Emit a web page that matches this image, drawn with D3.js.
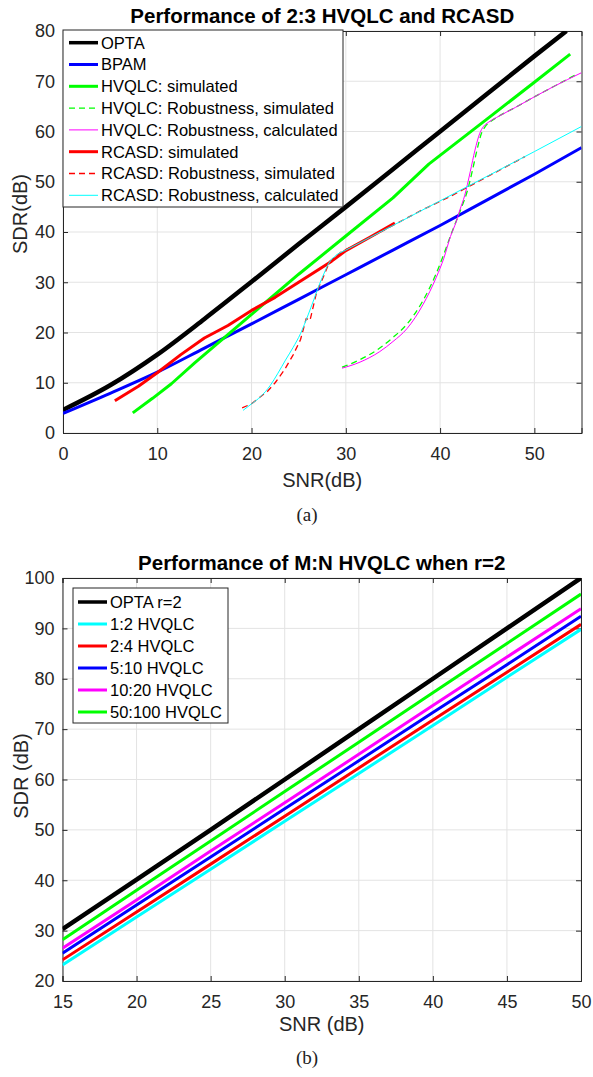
<!DOCTYPE html>
<html>
<head>
<meta charset="utf-8">
<script src="https://cdn.jsdelivr.net/npm/d3@7"></script>
<style>
  body { margin: 0; background: #fff; }
  svg { display: block; font-family: "Liberation Sans", Arial, Helvetica, sans-serif; }
</style>
</head>
<body>
<div id="chart"></div>
<script>
// ---- panel (a) data ----
var optaSnr = [0, 5, 10, 15, 20, 25, 30, 35, 40, 45, 50, 53.4];
var optaSdr = [4.6, 9.5, 15.6, 22.7, 30.1, 37.6, 45.0, 52.5, 60.0, 67.5, 75.0, 80.0];

var bpamSnr = [0, 5, 10, 15, 20, 25, 30, 35, 40, 45, 50, 55];
var bpamSdr = [3.9, 7.9, 12.1, 16.9, 21.7, 26.6, 31.5, 36.4, 41.3, 46.4, 51.5, 56.8];

var hvSimSnr = [7.4, 9.5, 11.5, 14, 17.3, 20, 25, 30, 35, 38.8, 45, 50, 53.8];
var hvSimSdr = [4.0, 6.9, 9.8, 14.0, 19.3, 23.6, 31.6, 39.2, 46.8, 53.5, 62.5, 69.8, 75.4];

var hvRobSimSnr = [29.6, 31.5, 33.6, 35.0, 36.5, 38.2, 39.6, 40.4, 41.2, 41.8, 42.3, 42.8, 43.4, 43.9, 44.4, 44.8, 45.3, 46, 48, 50, 52, 54.5];
var hvRobSimSdr = [13.1, 14.6, 16.9, 19.0, 21.7, 26.4, 31.8, 35.6, 39.7, 42.6, 45.0, 47.6, 52.0, 56.2, 59.7, 61.0, 61.9, 62.8, 64.8, 66.9, 68.9, 71.4];

var hvRobCalSnr = [29.6, 31.5, 33.6, 35.0, 36.5, 38.2, 39.6, 40.4, 41.1, 41.7, 42.1, 42.6, 43.2, 43.7, 44.2, 44.6, 45.1, 46, 48, 50, 52, 55];
var hvRobCalSdr = [12.9, 14.1, 16.2, 18.2, 20.8, 25.6, 31.0, 34.8, 39.1, 42.0, 44.4, 47.2, 52.0, 56.3, 59.6, 61.0, 61.8, 62.8, 64.8, 66.9, 68.9, 71.7];

var rcSimSnr = [5.5, 8, 10, 12.5, 15, 17.5, 20, 22.5, 25, 28.5, 30, 32.5, 35.2];
var rcSimSdr = [6.4, 9.3, 12.0, 15.6, 18.9, 21.4, 24.4, 27.0, 30.0, 34.2, 36.3, 38.9, 41.8];

var rcRobSimSnr = [19.0, 20.0, 20.8, 21.7, 22.5, 23.5, 24.4, 25.2, 25.8, 26.2, 26.9, 27.6, 28.3, 29.5, 32, 35, 38, 41, 44, 47, 49];
var rcRobSimSdr = [5.0, 5.8, 7.0, 8.3, 10.0, 12.6, 15.5, 18.6, 22.8, 22.4, 28.0, 31.0, 34.2, 36.0, 38.4, 41.3, 44.3, 47.0, 50.0, 53.0, 55.0];

var rcRobCalSnr = [19.1, 20.0, 21.0, 22.0, 22.8, 23.6, 24.4, 25.2, 26.0, 26.6, 27.1, 27.7, 28.2, 29.0, 30, 35, 40, 45, 50, 55];
var rcRobCalSdr = [4.5, 5.8, 7.3, 9.5, 11.9, 14.5, 17.0, 19.8, 23.5, 26.5, 29.1, 31.8, 33.8, 35.4, 36.4, 41.3, 46.2, 51.1, 56.0, 61.0];

var ticksAX = [0, 10, 20, 30, 40, 50];
var ticksAY = [0, 10, 20, 30, 40, 50, 60, 70, 80];

// ---- panel (b) data ----
var snrB = [15, 20, 25, 30, 35, 40, 45, 50];
var optaR2 = [30.3, 40.1, 50.0, 60.0, 70.0, 80.0, 90.0, 100.0];
var hv1to2 = [23.2, 32.7, 42.2, 51.7, 61.2, 70.7, 80.3, 89.8];
var hv2to4 = [24.2, 33.7, 43.2, 52.7, 62.3, 71.8, 81.3, 90.8];
var hv5to10 = [25.5, 35.1, 44.6, 54.2, 63.7, 73.3, 82.8, 92.4];
var hv10to20 = [26.5, 36.1, 45.8, 55.4, 65.0, 74.7, 84.3, 93.9];
var hv50to100 = [28.2, 38.0, 47.8, 57.6, 67.4, 77.2, 87.0, 96.8];

var ticksBX = [15, 20, 25, 30, 35, 40, 45, 50];
var ticksBY = [20, 30, 40, 50, 60, 70, 80, 90, 100];

var axisColor = '#262626';
var gridColor = '#e3e3e3';

var svg = d3.select('#chart').append('svg')
  .attr('width', 593)
  .attr('height', 1077);

function zip(xs, ys) {
  return xs.map((x, i) => [x, ys[i]]);
}

function drawPanel(p) {
  var x = d3.scaleLinear().domain(p.xDomain).range([p.left, p.right]);
  var y = d3.scaleLinear().domain(p.yDomain).range([p.bottom, p.top]);
  var g = svg.append('g');

  // grid
  g.selectAll('.gx').data(p.xTicks).enter().append('line')
    .attr('x1', d => x(d)).attr('x2', d => x(d))
    .attr('y1', p.top).attr('y2', p.bottom)
    .attr('stroke', gridColor).attr('stroke-width', 1);
  g.selectAll('.gy').data(p.yTicks).enter().append('line')
    .attr('x1', p.left).attr('x2', p.right)
    .attr('y1', d => y(d)).attr('y2', d => y(d))
    .attr('stroke', gridColor).attr('stroke-width', 1);

  // axes, ticks pointing inward
  var ax = [
    { gen: d3.axisBottom(x).tickValues(p.xTicks).tickSize(-5).tickPadding(14), t: `translate(0,${p.bottom})` },
    { gen: d3.axisLeft(y).tickValues(p.yTicks).tickSize(-5).tickPadding(8), t: `translate(${p.left},0)` },
    { gen: d3.axisTop(x).tickValues(p.xTicks).tickSize(-5).tickFormat(''), t: `translate(0,${p.top})` },
    { gen: d3.axisRight(y).tickValues(p.yTicks).tickSize(-5).tickFormat(''), t: `translate(${p.right},0)` }
  ];
  ax.forEach(a => {
    var sel = g.append('g').attr('transform', a.t).call(a.gen);
    sel.select('.domain').attr('stroke', axisColor);
    sel.selectAll('.tick line').attr('stroke', axisColor);
    sel.selectAll('.tick text')
      .attr('fill', axisColor)
      .style('font-size', '18px')
      .style('font-family', '"Liberation Sans", Arial, sans-serif');
  });

  // curves
  var clipId = 'clip' + p.id;
  svg.append('clipPath').attr('id', clipId).append('rect')
    .attr('x', p.left).attr('y', p.top)
    .attr('width', p.right - p.left).attr('height', p.bottom - p.top);

  var line = d3.line().x(d => x(d[0])).y(d => y(d[1]));
  var smooth = d3.line().x(d => x(d[0])).y(d => y(d[1])).curve(d3.curveMonotoneX);
  g.append('g').attr('clip-path', `url(#${clipId})`)
    .selectAll('path').data(p.series).enter().append('path')
    .attr('d', d => (d.smooth ? smooth : line)(zip(d.x, d.y)))
    .attr('fill', 'none')
    .attr('stroke', d => d.color)
    .attr('stroke-width', d => d.width)
    .attr('stroke-dasharray', d => d.dash || null)
    .attr('stroke-linejoin', 'round');

  // titles and labels
  g.append('text')
    .attr('x', (p.left + p.right) / 2).attr('y', p.titleY)
    .attr('text-anchor', 'middle')
    .style('font-size', '20.5px').style('font-weight', 'bold')
    .attr('fill', '#000')
    .text(p.title);
  g.append('text')
    .attr('x', (p.left + p.right) / 2).attr('y', p.xLabelY)
    .attr('text-anchor', 'middle')
    .style('font-size', '20px').attr('fill', axisColor)
    .text(p.xLabel);
  g.append('text')
    .attr('transform', `translate(${p.yLabelX},${p.yLabelCenter}) rotate(-90)`)
    .attr('text-anchor', 'middle')
    .style('font-size', '20px').attr('fill', axisColor)
    .text(p.yLabel);
  g.append('text')
    .attr('x', 307).attr('y', p.captionY)
    .attr('text-anchor', 'middle')
    .style('font-family', '"Liberation Serif", "Times New Roman", serif')
    .style('font-size', '19px').attr('fill', '#222')
    .text(p.caption);

  // legend
  var L = p.legend;
  var lg = g.append('g');
  lg.append('rect')
    .attr('x', L.x).attr('y', L.y).attr('width', L.w).attr('height', L.h)
    .attr('fill', '#fff').attr('stroke', axisColor).attr('stroke-width', 1);
  var rows = lg.selectAll('.row').data(p.series).enter().append('g')
    .attr('transform', (d, i) => `translate(${L.x},${L.firstRow + i * L.step})`);
  rows.append('line')
    .attr('x1', L.lineX1).attr('x2', L.lineX2)
    .attr('stroke', d => d.color)
    .attr('stroke-width', d => Math.min(d.width, 3.5))
    .attr('stroke-dasharray', d => d.dash || null);
  rows.append('text')
    .attr('x', L.textX).attr('dy', '0.36em')
    .style('font-size', '16.5px').attr('fill', '#000')
    .text(d => d.name);
}

drawPanel({
  id: 'a',
  xDomain: [0, 55], yDomain: [0, 80],
  left: 63, right: 581.5, top: 31, bottom: 433,
  xTicks: ticksAX, yTicks: ticksAY,
  title: 'Performance of 2:3 HVQLC and RCASD', titleY: 23,
  xLabel: 'SNR(dB)', xLabelY: 487,
  yLabel: 'SDR(dB)', yLabelX: 27, yLabelCenter: 214,
  caption: '(a)', captionY: 521,
  legend: { x: 63, y: 30, w: 280, h: 177, firstRow: 42.7, step: 21.8, lineX1: 6, lineX2: 35, textX: 38 },
  series: [
    { name: 'OPTA', x: optaSnr, y: optaSdr, color: '#000000', width: 4.5, smooth: true },
    { name: 'BPAM', x: bpamSnr, y: bpamSdr, color: '#0000ff', width: 3, smooth: true },
    { name: 'HVQLC: simulated', x: hvSimSnr, y: hvSimSdr, color: '#00ff00', width: 3 },
    { name: 'HVQLC: Robustness, simulated', x: hvRobSimSnr, y: hvRobSimSdr, color: '#00ff00', width: 1.3, dash: '6,4', smooth: true },
    { name: 'HVQLC: Robustness, calculated', x: hvRobCalSnr, y: hvRobCalSdr, color: '#ff00ff', width: 1, smooth: true },
    { name: 'RCASD: simulated', x: rcSimSnr, y: rcSimSdr, color: '#ff0000', width: 3 },
    { name: 'RCASD: Robustness, simulated', x: rcRobSimSnr, y: rcRobSimSdr, color: '#ff0000', width: 1.3, dash: '6,4' },
    { name: 'RCASD: Robustness, calculated', x: rcRobCalSnr, y: rcRobCalSdr, color: '#00ffff', width: 1, smooth: true }
  ]
});

drawPanel({
  id: 'b',
  xDomain: [15, 50], yDomain: [20, 100],
  left: 62.5, right: 581, top: 578, bottom: 981,
  xTicks: ticksBX, yTicks: ticksBY,
  title: 'Performance of M:N HVQLC when r=2', titleY: 570,
  xLabel: 'SNR (dB)', xLabelY: 1031,
  yLabel: 'SDR (dB)', yLabelX: 28, yLabelCenter: 776,
  caption: '(b)', captionY: 1064,
  legend: { x: 73, y: 588, w: 155, h: 135, firstRow: 602, step: 22, lineX1: 5, lineX2: 34, textX: 37 },
  series: [
    { name: 'OPTA r=2', x: snrB, y: optaR2, color: '#000000', width: 4.5 },
    { name: '1:2 HVQLC', x: snrB, y: hv1to2, color: '#00ffff', width: 3 },
    { name: '2:4 HVQLC', x: snrB, y: hv2to4, color: '#ff0000', width: 3 },
    { name: '5:10 HVQLC', x: snrB, y: hv5to10, color: '#0000ff', width: 3 },
    { name: '10:20 HVQLC', x: snrB, y: hv10to20, color: '#ff00ff', width: 3 },
    { name: '50:100 HVQLC', x: snrB, y: hv50to100, color: '#00ff00', width: 3 }
  ]
});
</script>
</body>
</html>
